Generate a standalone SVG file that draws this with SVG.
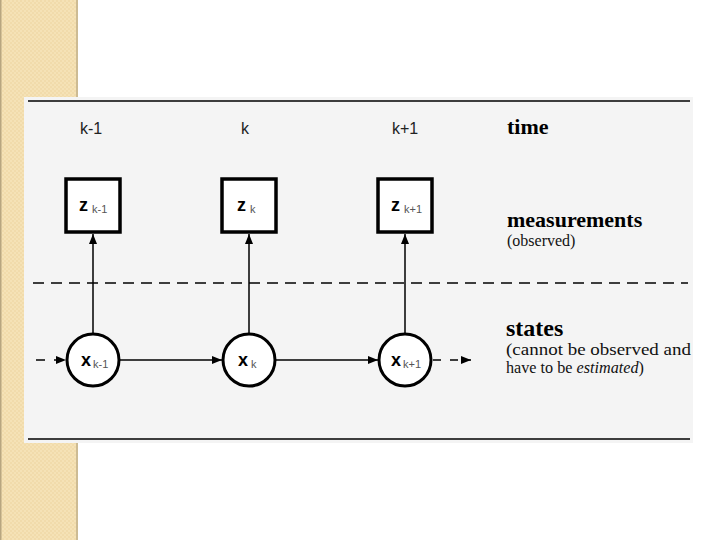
<svg xmlns="http://www.w3.org/2000/svg" width="720" height="540" viewBox="0 0 720 540">
<style>
.lbl{font-family:"Liberation Sans",Arial,sans-serif;font-size:16px;fill:#222}
.var{font-family:"Liberation Sans",Arial,sans-serif;font-size:18px;font-weight:bold;fill:#000}
.sub{font-family:"Liberation Sans",Arial,sans-serif;font-size:11px;fill:#555}
.head{font-family:"Liberation Serif","Times New Roman",serif;font-weight:bold;fill:#000}
.desc{font-family:"Liberation Serif","Times New Roman",serif;fill:#111}
.box{fill:#fff;stroke:#000;stroke-width:3.5}
.node{fill:#fff;stroke:#000;stroke-width:3}
.con{stroke:#000;stroke-width:1.5;fill:none}
</style>
<defs>
<pattern id="chk" width="4" height="4" patternUnits="userSpaceOnUse">
<rect width="4" height="4" fill="#f5e2b6"/>
<rect width="2" height="2" fill="#f1dbab"/>
<rect x="2" y="2" width="2" height="2" fill="#f1dbab"/>
</pattern>
<marker id="arr" viewBox="0 0 10 8" refX="10" refY="4" markerWidth="10" markerHeight="8" markerUnits="userSpaceOnUse" orient="auto">
<path d="M0,0 L10,4 L0,8 z" fill="#000"/>
</marker>
</defs>
<rect width="720" height="540" fill="#fff"/>
<g id="strip">
<rect x="0" y="0" width="78" height="540" fill="url(#chk)"/>
<rect x="0" y="0" width="1.5" height="540" fill="#b8a680"/>
<rect x="76" y="0" width="2" height="540" fill="#cdbb93"/>
</g>
<g id="panel">
<rect x="24" y="97" width="669" height="346" fill="#f4f4f4"/>
<line x1="28" y1="101" x2="690" y2="101" stroke="#000" stroke-width="1.5"/>
<line x1="28" y1="439" x2="690" y2="439" stroke="#000" stroke-width="1.5"/>
<line x1="33" y1="283" x2="688" y2="283" stroke="#000" stroke-width="1.5" stroke-dasharray="11,7"/>
</g>
<g id="labels">
<text class="lbl" x="80" y="134">k-1</text>
<text class="lbl" x="241" y="134">k</text>
<text class="lbl" x="392" y="134">k+1</text>
<text class="head" x="507" y="134" font-size="22">time</text>
<text class="head" x="507" y="227" font-size="22">measurements</text>
<text class="desc" x="507" y="246" font-size="16">(observed)</text>
<text class="head" x="506" y="336" font-size="24">states</text>
<text class="desc" x="506" y="355" font-size="16.5" textLength="185" lengthAdjust="spacingAndGlyphs">(cannot be observed and</text>
<text class="desc" x="506" y="373" font-size="16.5" textLength="138" lengthAdjust="spacingAndGlyphs">have to be <tspan font-style="italic">estimated</tspan>)</text>
</g>
<g id="connectors">
<line class="con" x1="93" y1="334" x2="93" y2="234" marker-end="url(#arr)"/>
<line class="con" x1="249" y1="334" x2="249" y2="234" marker-end="url(#arr)"/>
<line class="con" x1="405" y1="334" x2="405" y2="234" marker-end="url(#arr)"/>
<line class="con" x1="36" y1="360" x2="66" y2="360" stroke-dasharray="9,9" marker-end="url(#arr)"/>
<line class="con" x1="120" y1="360" x2="222" y2="360" marker-end="url(#arr)"/>
<line class="con" x1="276" y1="360" x2="378" y2="360" marker-end="url(#arr)"/>
<line class="con" x1="433" y1="360" x2="471" y2="360" stroke-dasharray="8,9" marker-end="url(#arr)"/>
</g>
<g id="z_km1">
<rect class="box" x="66" y="179" width="54" height="53"/>
<text class="var" x="79" y="211">z</text><text class="sub" x="92" y="213">k-1</text>
</g>
<g id="z_k">
<rect class="box" x="222" y="179" width="54" height="53"/>
<text class="var" x="237" y="211">z</text><text class="sub" x="250" y="213">k</text>
</g>
<g id="z_kp1">
<rect class="box" x="378" y="179" width="54" height="53"/>
<text class="var" x="391" y="211">z</text><text class="sub" x="404" y="213">k+1</text>
</g>
<g id="x_km1">
<circle class="node" cx="93" cy="360" r="26"/>
<text class="var" x="81" y="366">x</text><text class="sub" x="93" y="368">k-1</text>
</g>
<g id="x_k">
<circle class="node" cx="249" cy="360" r="26"/>
<text class="var" x="238" y="366">x</text><text class="sub" x="251" y="368">k</text>
</g>
<g id="x_kp1">
<circle class="node" cx="405" cy="360" r="26"/>
<text class="var" x="391" y="366">x</text><text class="sub" x="403" y="368">k+1</text>
</g>
</svg>
